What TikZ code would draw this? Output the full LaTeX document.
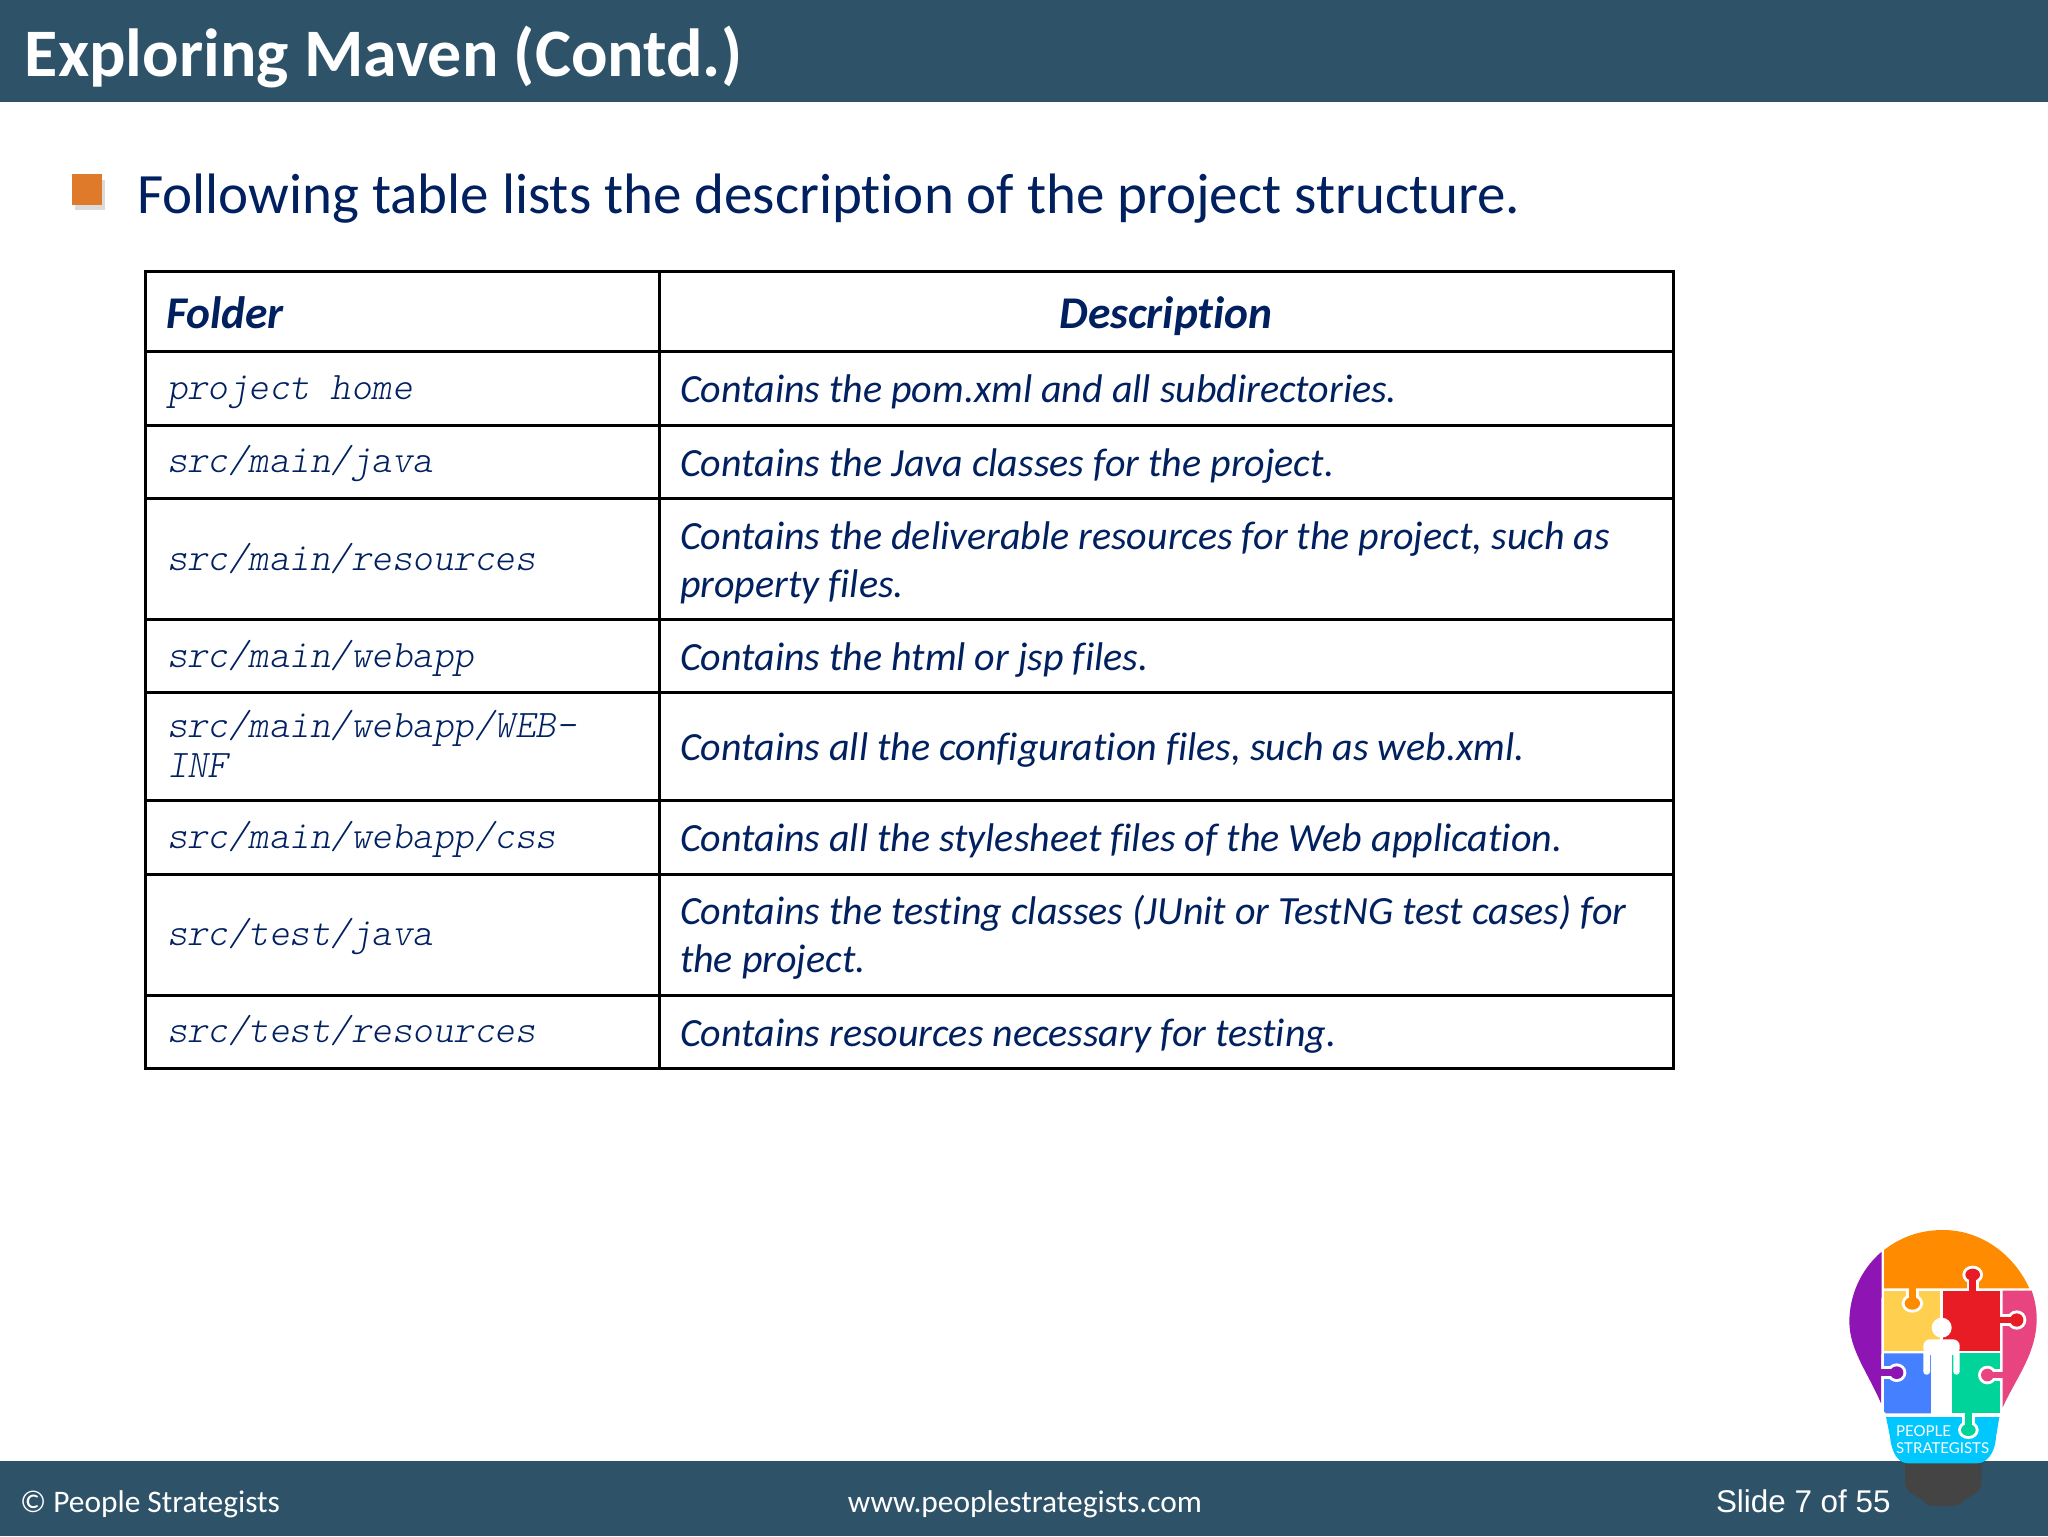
\documentclass[tikz,border=0pt]{standalone}
\usepackage{fontspec}
\setmainfont{Carlito}[Ligatures=NoCommon]
\newfontfamily\codef{Latin Modern Mono Light}
\newfontfamily\arialf{Liberation Sans}
\newfontfamily\logof{Lato}
\definecolor{bar}{HTML}{2E5369}
\definecolor{navy}{HTML}{002060}
\definecolor{bul}{HTML}{DE7A2A}
\definecolor{lorange}{HTML}{FF8C00}
\definecolor{lpurple}{HTML}{8E14B4}
\definecolor{lpink}{HTML}{E8447F}
\definecolor{lyellow}{HTML}{FFD050}
\definecolor{lred}{HTML}{E81C24}
\definecolor{lblue}{HTML}{4480FF}
\definecolor{lgreen}{HTML}{00D49A}
\definecolor{lcyan}{HTML}{00C8FF}
\definecolor{lsock}{HTML}{444444}
\newcommand{\knob}[7]{%
 \draw[white,line width=6.2pt,line cap=butt] (#1,#2) -- (#3,#4);
 \fill[white] (#3,#4) ellipse[x radius=#6+9,y radius=#7+9];
 \fill[#5] (#3,#4) ellipse[x radius=#6,y radius=#7];
 \draw[#5,line width=3.4pt,shorten <=-2pt] (#1,#2) -- (#3,#4);
}
\tikzset{
 x=0.5pt,y=-0.5pt,
 cell/.style={anchor=base west,inner sep=0pt,outer sep=0pt,text=navy,font=\fontsize{20}{24}\selectfont\itshape},
 code/.style={anchor=base west,inner sep=0pt,outer sep=0pt,text=navy,font=\fontsize{19.5}{24}\codef\slshape},
 head/.style={inner sep=0pt,outer sep=0pt,text=navy,font=\fontsize{22.7}{27}\selectfont\bfseries\itshape},
 foot/.style={inner sep=0pt,outer sep=0pt,text=white,anchor=base},
 grid/.style={draw=black,line width=1.5pt},
}
\begin{document}
\begin{tikzpicture}
\useasboundingbox (0,0) rectangle (2048,1536);
\fill[white] (0,0) rectangle (2048,1536);
\fill[bar] (0,0) rectangle (2048,102);
\fill[bar] (0,1461) rectangle (2048,1536);
\node[foot,anchor=base west,font=\fontsize{34}{40}\selectfont\bfseries] (title) at (25,76) {Exploring Maven (Contd.)};
\fill[black!14] (75,180) rectangle (105,210);
\fill[bul] (72,174) rectangle (102,205);
\node[anchor=base west,inner sep=0pt,text=navy,font=\fontsize{28.5}{34}\selectfont] (intro) at (137,213) {Following table lists the description of the project structure.};
% table
\draw[grid] (145,271) rectangle (1673,1068);
\draw[grid] (659.5,271) -- (659.5,1068);
\foreach \yy in {351,425,498,619,692,800,874,995} \draw[grid] (145,\yy) -- (1673,\yy);
\node[head,anchor=base west] (h1) at (166,328) {Folder};
\node[head,anchor=base] (h2) at (1166,328) {Description};
\node[code] (f1) at (167,399) {project home};
\node[code] (f2) at (167,472) {src/main/java};
\node[code] (f3) at (167,570) {src/main/resources};
\node[code] (f4) at (167,667) {src/main/webapp};
\node[code] (f5a) at (167,737) {src/main/webapp/WEB-};
\node[code] (f5b) at (167,777) {INF};
\node[code] (f6) at (167,848) {src/main/webapp/css};
\node[code] (f7) at (167,945) {src/test/java};
\node[code] (f8) at (167,1042) {src/test/resources};
\node[cell] (d1) at (680,402) {Contains the pom.xml and all subdirectories.};
\node[cell] (d2) at (680,476) {Contains the Java classes for the project.};
\node[cell] (d3a) at (680,549) {Contains the deliverable resources for the project, such as};
\node[cell] (d3b) at (680,597) {property files.};
\node[cell] (d4) at (680,670) {Contains the html or jsp files.};
\node[cell] (d5) at (680,760) {Contains all the configuration files, such as web.xml.};
\node[cell] (d6) at (680,851) {Contains all the stylesheet files of the Web application.};
\node[cell] (d7a) at (680,924) {Contains the testing classes (JUnit or TestNG test cases) for};
\node[cell] (d7b) at (680,972) {the project.};
\node[cell] (d8) at (680,1046) {Contains resources necessary for testing.};
% footer
\node[foot,anchor=base west,font=\fontsize{15.7}{18}\selectfont] (ft1) at (20,1512) {\textcopyright{} People Strategists};
\node[foot,font=\fontsize{15.7}{18}\selectfont] (ft2) at (1025,1512) {www.peoplestrategists.com};
\node[foot,anchor=base west,font=\fontsize{15.7}{18}\arialf] (ft3) at (1716,1512) {Slide 7 of 55};
% logo
\begin{scope}[shift={(1800,1200)},x=0.16667pt,y=-0.16667pt]
\fill[lsock] (315,785) -- (545,785) -- (545,845) .. controls (545,870) and (530,880) .. (500,895) .. controls (485,905) and (480,918) .. (460,918) -- (400,918) .. controls (380,918) and (375,905) .. (360,895) .. controls (330,880) and (315,870) .. (315,845) -- cycle;
\fill[lorange] (252,150) .. controls (310,105) and (370,90) .. (430,90) .. controls (540,90) and (640,160) .. (688,265) -- (252,265) -- cycle;
\fill[lpurple] (245,155) .. controls (180,210) and (148,290) .. (148,365) .. controls (148,450) and (205,520) .. (243,610) -- cycle;
\fill[lpink] (608,272) -- (695,272) .. controls (705,300) and (710,330) .. (710,355) .. controls (710,460) and (650,530) .. (608,622) -- cycle;
\fill[lyellow] (252,272) rectangle (420,452);
\fill[lred] (430,272) rectangle (600,452);
\fill[lblue] (252,460) -- (395,460) -- (395,640) -- (258,640) -- (252,634) -- cycle;
\fill[lgreen] (455,460) -- (600,460) -- (600,640) -- (455,640) -- cycle;
\fill[lcyan] (258,651) -- (598,651) -- (588,710) .. controls (585,760) and (560,790) .. (530,790) -- (325,790) .. controls (295,790) and (275,760) .. (270,710) -- cycle;
\knob{518}{268}{518}{224}{lred}{22}{18}
\knob{337}{268}{337}{310}{lorange}{23}{19}
\knob{604}{360}{650}{360}{lred}{20}{20}
\knob{248}{518}{290}{518}{lpurple}{20}{19}
\knob{604}{525}{562}{525}{lpink}{19}{19}
\knob{505}{645}{505}{690}{lgreen}{22}{18}
\fill[white] (425,383) circle[radius=30];
\fill[white,rounded corners=3.3pt] (370,465) rectangle (479,418);
\fill[white,rounded corners=1.5pt] (370,450) rectangle (390,524);
\fill[white,rounded corners=1.5pt] (460,450) rectangle (479,524);
\fill[white] (394,440) rectangle (456,642);
\node[anchor=base west,inner sep=0pt,text=white,font=\fontsize{7.5}{9}\logof] (lg1) at (287,708) {PEOPLE};
\node[anchor=base west,inner sep=0pt,text=white,font=\fontsize{7.5}{9}\logof] (lg2) at (287,760) {STRATEGISTS};
\end{scope}
\end{tikzpicture}
\end{document}
